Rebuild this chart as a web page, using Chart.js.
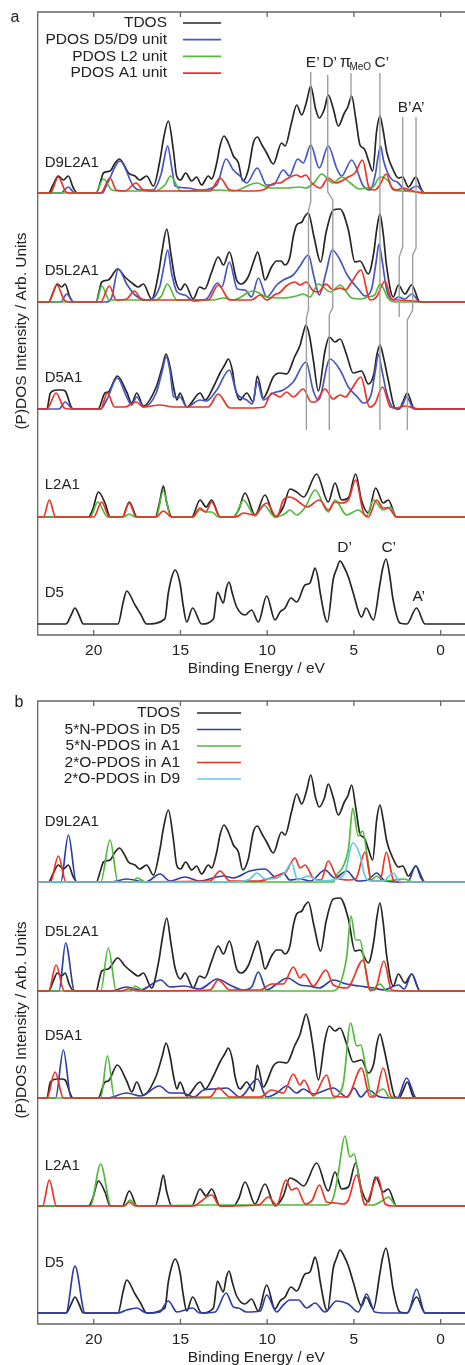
<!DOCTYPE html>
<html>
<head>
<meta charset="utf-8">
<script src="https://cdn.jsdelivr.net/npm/chart.js@4.4.1/dist/chart.umd.min.js"></script>
<style>
  html, body { margin: 0; padding: 0; background: #fff; overflow: hidden; width: 465px; height: 1365px; }
  .panel { position: absolute; left: 0; width: 475px; height: 689px; }
</style>
</head>
<body>
<div class="panel" style="top:0"><canvas id="chartA" width="475" height="689"></canvas></div>
<div class="panel" style="top:689px"><canvas id="chartB" width="475" height="689"></canvas></div>
<script>
// energy axis (eV), reversed, and its tick labels
const energyMin = -1.98;
const energyMax = 23.23;
const tickValues = [0, 5, 10, 15, 20];

// stacked spectra, bottom to top, with their vertical offsets (arb. units)
const spectrumNames = ['D5', 'L2A1', 'D5A1', 'D5L2A1', 'D9L2A1'];
const spectrumOffsets = [0, 107, 215, 322, 431];

// TDOS of each system, [binding energy, intensity] (same in both panels)
const tdosD9L2A1 = [[23.3,0],[22.6,0],[22.35,8],[22.04,17],[21.75,13],[21.46,17],[21.2,6],[20.95,0],[19.85,0],[19.6,12],[19.44,20],[19.06,22],[18.77,30],[18.52,34],[18.25,28],[18.0,20],[17.62,17],[17.35,13],[16.95,17],[16.56,7],[16.18,33],[15.99,53],[15.7,72],[15.41,43],[15.22,17],[15.0,13],[14.7,20],[14.35,12],[14.07,16],[13.78,8],[13.39,17],[13.2,14],[12.91,30],[12.72,47],[12.49,57],[12.24,50],[11.95,37],[11.66,30],[11.41,12],[11.09,23],[10.8,50],[10.57,56],[10.3,48],[10.03,40],[9.65,29],[9.17,50],[8.97,47],[8.6,70],[8.3,88],[8.01,78],[7.72,92],[7.49,107],[7.22,85],[7.0,75],[6.7,84],[6.48,98],[6.2,85],[5.9,67],[5.55,80],[5.35,86],[5.13,97],[4.9,75],[4.65,48],[4.4,44],[4.15,32],[3.92,22],[3.69,62],[3.5,77],[3.31,62],[3.11,41],[2.73,23],[2.44,15],[2.19,16],[1.86,6],[1.42,16],[1.15,5],[0.95,0],[-2,0]];
const tdosD5L2A1 = [[23.3,0],[22.6,0],[22.35,9],[22.1,18],[21.85,15],[21.65,18],[21.4,6],[21.15,0],[19.85,0],[19.7,10],[19.54,20],[19.16,22],[18.62,33],[18.2,25],[17.72,18],[17.43,15],[17.14,18],[16.66,3],[16.25,30],[16.05,52],[15.79,73],[15.55,48],[15.31,23],[15.0,12],[14.74,18],[14.26,3],[13.9,15],[13.6,13],[13.2,30],[12.82,45],[12.52,37],[12.18,50],[11.76,22],[11.5,18],[11.1,25],[10.75,42],[10.55,50],[10.35,38],[10.13,22],[9.75,35],[9.45,41],[9.2,41],[8.98,37],[8.69,45],[8.5,65],[8.3,77],[8.0,80],[7.85,85],[7.63,89],[7.3,65],[6.92,40],[6.6,70],[6.19,92],[5.8,93],[5.32,72],[4.94,40],[4.65,41],[4.17,28],[3.85,50],[3.69,72],[3.5,88],[3.31,68],[3.11,35],[2.73,5],[2.44,17],[2.06,8],[1.67,17],[1.19,0],[-2,0]];
const tdosD5A1 = [[23.3,0],[22.7,0],[22.5,16],[22.1,19],[21.85,19],[21.65,18],[21.3,2],[21.2,0],[19.75,0],[19.35,16],[19.16,17],[18.64,33],[18.1,17],[17.81,6],[17.52,16],[17.14,3],[16.4,22],[16.05,42],[15.83,55],[15.6,42],[15.4,22],[15.2,9],[15.03,16],[14.64,2],[13.87,16],[13.58,9],[13.1,22],[12.72,36],[12.45,44],[12.24,50],[12.0,38],[11.86,22],[11.57,9],[11.18,16],[10.8,7],[10.57,33],[10.22,11],[10.03,16],[9.65,32],[9.26,36],[8.88,35],[8.4,53],[8.1,64],[7.95,74],[7.76,84],[7.55,72],[7.34,49],[7.05,18],[6.67,58],[6.42,72],[6.09,67],[5.8,70],[5.42,54],[5.04,36],[4.56,38],[4.17,25],[3.85,35],[3.68,54],[3.5,64],[3.3,52],[3.02,29],[2.63,1],[2.4,0],[2.2,6],[1.92,16],[1.6,2],[1.4,0],[-2,0]];
const tdosL2A1 = [[23.3,0],[20.3,0],[20.05,8],[19.73,25],[19.35,14],[19.05,0],[18.35,0],[17.95,15],[17.5,0],[16.45,0],[16.2,15],[15.99,31],[15.8,15],[15.5,0],[14.35,0],[13.87,17],[13.52,10],[13.2,17],[12.72,0],[11.95,0],[11.65,7],[11.28,24],[10.7,2],[10.13,22],[9.55,0],[9.07,10],[8.69,28],[8.3,25],[7.9,20],[7.15,43],[6.48,15],[6.09,34],[5.71,17],[5.32,19],[4.9,43],[4.57,17],[4.17,4],[3.75,29],[3.31,14],[3.02,17],[2.54,0],[-2,0]];
const tdosD5 = [[23.3,0],[21.6,0],[21.3,9],[21.08,16],[20.85,9],[20.6,0],[18.6,0],[18.3,22],[18.1,33],[17.62,19],[17.3,10],[16.95,0],[15.9,5],[15.7,31],[15.5,47],[15.31,54],[15.03,41],[14.83,17],[14.64,2],[14.3,16],[13.78,0],[13.1,5],[12.87,32],[12.53,21],[12.35,36],[12.2,42],[12.0,30],[11.76,17],[11.28,9],[10.9,14],[10.51,2],[10.03,28],[9.55,4],[9.26,12],[8.97,16],[8.63,26],[8.3,22],[7.82,39],[7.53,41],[7.4,48],[7.24,56],[7.05,44],[6.96,33],[6.53,2],[6.19,45],[6.0,55],[5.8,63],[5.6,58],[5.32,47],[5.04,31],[4.56,7],[4.3,16],[3.88,4],[3.5,40],[3.35,55],[3.15,65],[2.95,50],[2.75,25],[2.35,1],[1.95,0],[1.39,16],[0.9,0],[-2,0]];

// panel a: PDOS of the D5/D9, L2 and A1 units
const unitDD_D9L2A1 = [[23.3,0],[21.9,0],[21.46,6],[21.1,0],[19.5,0],[19.25,8],[18.48,32],[17.72,7],[17.33,3],[16.6,3],[16.1,20],[15.95,33],[15.74,47],[15.5,25],[15.3,7],[14.6,5],[13.9,3],[12.91,8],[12.37,34],[11.95,23],[11.57,17],[11.18,10],[10.57,25],[10.03,8],[9.65,8],[9.07,23],[8.72,17],[8.24,34],[7.92,30],[7.49,48],[7.0,25],[6.48,47],[6.0,25],[5.71,17],[5.13,33],[4.46,7],[4.07,3],[3.75,20],[3.62,35],[3.46,47],[3.3,33],[3.05,20],[2.78,13],[2.5,11],[1.96,2],[1.39,7],[0.9,0],[-2,0]];
const unitL2_D9L2A1 = [[23.3,0],[19.9,0],[19.44,14],[18.95,3],[18.5,2],[16.5,2],[15.9,8],[15.56,17],[15.0,2],[12.72,3],[11.95,2],[10.6,10],[9.84,5],[8.88,5],[8.11,6],[7.8,5],[7.3,10],[6.86,19],[6.4,12],[6.2,10],[5.71,16],[5.2,10],[4.7,4],[4.27,5],[3.9,6],[3.5,16],[3.02,12],[2.73,3],[2.2,2],[1.4,1],[0.8,0],[-2,0]];
const unitA1_D9L2A1 = [[23.3,0],[22.5,0],[22.04,16],[21.6,1],[21.3,0],[19.6,0],[19.06,15],[18.7,3],[18.2,2],[17.56,10],[17.15,3],[16.5,2],[13.3,2],[12.72,15],[12.15,3],[11.0,2],[10.25,3],[9.55,10],[9.26,10],[8.97,13],[8.3,18],[8.05,16],[7.78,18],[7.42,10],[6.94,5],[6.48,15],[6.04,10],[5.71,12],[5.33,16],[4.94,20],[4.5,33],[4.12,5],[3.8,3],[3.5,8],[3.15,19],[2.83,6],[2.55,3],[2.17,5],[1.6,2],[1.02,0],[-2,0]];
const unitDD_D5L2A1 = [[23.3,0],[21.9,0],[21.56,8],[21.17,0],[19.3,0],[19.0,3],[18.58,33],[18.1,18],[17.62,7],[16.95,2],[16.2,15],[15.95,36],[15.74,52],[15.5,28],[15.2,10],[14.74,7],[14.26,1],[13.5,3],[12.87,19],[12.62,15],[12.18,40],[11.72,13],[11.28,12],[10.9,5],[10.51,24],[10.03,5],[9.45,17],[9.07,22],[8.5,27],[8.11,36],[7.63,47],[7.3,25],[7.0,7],[6.6,30],[6.25,52],[5.8,42],[5.42,28],[4.75,13],[4.36,6],[4.0,12],[3.72,40],[3.56,58],[3.38,42],[3.11,12],[2.73,2],[2.44,5],[2.06,3],[1.67,8],[1.19,0],[-2,0]];
const unitL2_D5L2A1 = [[23.3,0],[19.85,0],[19.54,16],[19.1,2],[16.5,2],[16.1,6],[15.76,18],[15.2,2],[13.1,2],[12.5,4],[11.95,2],[10.8,11],[10.03,5],[9.07,4],[8.3,6],[7.92,8],[7.53,5],[7.05,18],[6.34,10],[5.8,17],[5.13,4],[4.6,3],[4.2,5],[3.8,7],[3.5,18],[3.0,3],[2.7,0],[-2,0]];
const unitA1_D5L2A1 = [[23.3,0],[22.6,0],[22.13,17],[21.7,2],[21.4,0],[19.6,0],[19.1,16],[18.7,2],[18.1,3],[17.66,11],[17.2,2],[16.5,2],[13.4,2],[12.82,17],[12.15,2],[10.9,2],[10.41,7],[10.03,2],[9.5,8],[9.3,9],[8.9,16],[8.4,20],[8.1,17],[7.76,20],[7.34,11],[7.05,10],[6.61,18],[6.2,12],[5.8,14],[5.5,12],[5.13,20],[4.59,32],[4.07,2],[3.7,5],[3.21,21],[2.83,3],[2.5,2],[1.5,1],[1.0,0],[-2,0]];
const unitDD_D5A1 = [[23.3,0],[22.0,0],[21.65,7],[21.2,0],[19.6,0],[19.25,9],[18.64,31],[18.1,12],[17.81,4],[17.52,12],[17.14,2],[16.4,16],[16.05,38],[15.83,52],[15.6,38],[15.4,12],[15.03,12],[14.64,2],[13.87,9],[13.5,8],[12.91,19],[12.18,39],[11.76,16],[11.18,9],[10.86,5],[10.57,27],[10.22,9],[9.65,16],[9.07,19],[8.5,27],[7.76,47],[7.34,18],[7.05,9],[6.38,50],[5.8,39],[5.32,22],[4.75,11],[4.46,6],[4.0,15],[3.75,40],[3.59,55],[3.4,40],[3.11,16],[2.73,1],[2.4,0],[2.2,4],[1.96,12],[1.6,1],[1.4,0],[-2,0]];
const unitA1_D5A1 = [[23.3,0],[22.7,0],[22.17,16],[21.7,1],[21.4,0],[19.6,0],[19.21,16],[18.8,2],[18.2,2],[17.56,7],[17.14,2],[16.18,4],[15.4,2],[13.4,2],[12.82,15],[12.15,1],[11.0,1],[10.2,2],[9.74,16],[9.26,12],[8.88,17],[8.5,12],[7.92,20],[7.46,7],[7.24,7],[6.67,20],[6.2,10],[5.8,14],[5.5,12],[5.13,20],[4.6,32],[4.1,2],[3.8,5],[3.35,22],[2.9,2],[2.6,1],[2.0,3],[1.6,1],[1.0,0],[-2,0]];
const unitL2_L2A1 = [[23.3,0],[20.2,0],[19.77,15],[19.2,0],[18.3,0],[17.95,3],[17.6,0],[16.4,0],[15.99,26],[15.55,0],[14.3,0],[13.87,7],[13.5,5],[13.2,5],[12.8,0],[11.9,0],[11.37,17],[10.7,1],[10.2,12],[9.55,0],[9.0,3],[8.69,7],[8.3,2],[7.8,10],[7.24,27],[6.48,5],[6.09,17],[5.42,2],[4.75,7],[4.27,1],[3.88,17],[3.31,7],[2.92,10],[2.54,0],[-2,0]];
const unitA1_L2A1 = [[23.3,0],[22.9,0],[22.56,17],[22.2,0],[20.0,0],[19.54,15],[19.1,0],[18.35,0],[17.95,14],[17.55,0],[16.4,0],[15.99,6],[15.5,0],[14.3,0],[13.87,9],[13.55,5],[13.2,15],[12.72,0],[11.8,0],[11.37,4],[10.75,2],[10.03,14],[9.45,0],[9.07,17],[8.72,20],[8.4,18],[8.1,14],[7.7,10],[6.99,17],[6.48,7],[6.09,15],[5.71,14],[5.32,17],[4.9,37],[4.46,5],[4.17,0],[3.69,17],[3.31,9],[3.02,9],[2.54,0],[-2,0]];

// panel b: weighted N- and O-PDOS
const nD5_D9L2A1 = [[23.3,0],[21.9,0],[21.46,47],[21.0,0],[19.0,0],[18.1,3],[17.0,0],[16.18,8],[15.6,1],[14.74,5],[13.9,1],[12.91,5],[12.53,6],[11.95,4],[11.0,11],[10.13,13],[9.45,4],[9.07,9],[8.7,2],[8.11,3],[7.5,1],[6.67,12],[6.1,4],[5.42,11],[4.8,1],[4.2,2],[3.69,9],[3.2,1],[2.3,0],[1.9,0],[1.44,16],[0.9,0],[-2,0]];
const nA1_D9L2A1 = [[23.3,0],[19.6,0],[19.06,42],[18.6,0],[17.8,0],[17.5,4],[17.0,0],[6.2,0],[5.99,7],[5.61,16],[5.3,35],[5.07,74],[4.75,46],[4.5,51],[4.2,22],[4.0,2],[3.69,6],[3.3,1],[2.1,3],[1.6,0],[-2,0]];
const oA1_D9L2A1 = [[23.3,0],[22.5,0],[22.04,26],[21.6,0],[13.3,1],[12.72,11],[12.15,1],[10.5,1],[9.8,4],[9.5,6],[9.2,8],[8.97,9],[8.4,24],[8.1,14],[7.82,17],[7.3,3],[6.9,2],[6.48,21],[5.95,4],[5.3,2],[4.9,3],[4.36,30],[4.0,1],[3.5,1],[3.13,30],[2.7,1],[2.2,0],[-2,0]];
const oD9_D9L2A1 = [[23.3,0],[12.0,0],[11.0,3],[10.6,9],[10.1,3],[9.5,4],[9.0,9],[8.59,19],[8.25,2],[7.66,6],[7.0,1],[6.0,3],[5.5,10],[5.07,39],[4.65,27],[4.4,8],[4.1,1],[3.3,1],[2.73,9],[2.4,1],[2.0,0],[-2,0]];
const nD5_D5L2A1 = [[23.3,0],[22.0,0],[21.62,48],[21.1,0],[19.0,0],[18.1,4],[17.3,1],[16.14,11],[15.6,4],[14.8,5],[13.9,2],[12.87,12],[12.15,6],[11.4,1],[10.9,4],[10.51,19],[10.03,1],[9.45,7],[8.84,13],[8.1,6],[7.6,5],[7.0,3],[6.19,11],[5.42,7],[4.7,5],[3.85,3],[3.3,1],[2.44,6],[2.1,2],[1.67,17],[1.19,0],[-2,0]];
const nA1_D5L2A1 = [[23.3,0],[19.6,0],[19.16,43],[18.7,0],[17.8,0],[17.62,5],[17.1,0],[6.2,0],[5.8,7],[5.42,34],[5.17,75],[4.9,51],[4.65,51],[4.36,24],[4.07,0],[3.5,7],[3.1,0],[-2,0]];
const oA1_D5L2A1 = [[23.3,0],[22.6,0],[22.17,26],[21.7,0],[18.4,0],[18.0,2],[17.5,0],[13.3,1],[12.82,11],[12.15,1],[10.4,1],[9.74,7],[9.07,7],[8.49,24],[8.11,13],[7.88,17],[7.34,5],[6.61,21],[6.19,6],[5.4,3],[4.46,31],[4.07,1],[3.8,1],[3.27,30],[2.83,1],[2.0,0],[-2,0]];
const nD5_D5A1 = [[23.3,0],[22.2,0],[21.75,48],[21.3,0],[19.2,0],[18.1,5],[17.3,2],[16.22,12],[15.6,5],[14.9,5],[14.2,1],[13.68,8],[13.1,9],[12.34,10],[11.57,1],[10.57,19],[10.03,1],[9.45,5],[8.88,12],[8.3,5],[7.92,9],[7.34,4],[6.19,10],[5.4,1],[5.0,10],[4.6,1],[4.17,8],[3.5,1],[2.5,0],[1.96,20],[1.4,0],[-2,0]];
const nA1_D5A1 = [[23.3,0],[19.6,0],[19.21,42],[18.8,0],[6.2,0],[5.9,3],[5.61,15],[5.19,75],[4.84,52],[4.61,53],[4.27,25],[3.98,2],[3.31,9],[2.9,0],[-2,0]];
const oA1_D5A1 = [[23.3,0],[22.7,0],[22.23,26],[21.75,0],[13.3,1],[12.82,10],[12.15,1],[10.4,1],[9.74,8],[9.07,5],[8.49,24],[8.11,13],[7.88,18],[7.34,2],[6.57,23],[6.19,2],[5.4,1],[4.56,30],[4.07,1],[3.8,1],[3.31,30],[2.83,1],[2.0,0],[-2,0]];
const nA1_L2A1 = [[23.3,0],[20.2,0],[19.6,42],[19.0,0],[18.2,0],[17.91,6],[17.5,0],[13.5,1],[6.6,1],[6.19,8],[5.9,33],[5.52,70],[5.23,49],[5.0,52],[4.65,23],[4.36,1],[3.9,1],[3.3,6],[3.02,9],[2.54,0],[-2,0]];
const oA1_L2A1 = [[23.3,0],[22.95,0],[22.56,26],[22.15,0],[18.3,0],[17.95,4],[17.6,0],[14.2,0],[13.87,4],[13.2,11],[12.72,0],[10.5,1],[9.93,9],[9.45,1],[8.92,26],[8.6,16],[8.3,18],[7.8,2],[7.4,6],[6.99,21],[6.57,4],[6.09,3],[5.61,2],[5.32,6],[4.84,31],[4.36,1],[3.63,29],[3.2,2],[2.8,0],[-2,0]];
const nD5_D5 = [[23.3,0],[21.6,0],[21.08,47],[20.5,0],[18.6,0],[18.1,3],[17.52,5],[16.95,0],[16.2,1],[15.7,12],[15.2,1],[14.3,5],[13.9,0],[13.0,1],[12.37,20],[11.95,6],[11.66,5],[11.18,1],[10.4,2],[10.03,18],[9.45,1],[9.07,8],[8.69,13],[8.2,13],[7.72,5],[7.24,10],[6.67,1],[6.0,12],[5.32,9],[4.75,1],[4.27,19],[3.8,1],[3.1,0],[1.9,0],[1.39,24],[0.9,0],[-2,0]];

// peak markers of panel a: [energy, intensity] corners of each guide line
const guideE = [[7.49,552],[7.49,422],[7.62,414],[7.62,314],[7.74,306],[7.74,194]];
const guideD = [[6.51,549],[6.51,432],[6.22,424],[6.22,317],[6.42,309],[6.42,194]];
const guidePi = [[5.17,551],[5.17,524]];
const guideC = [[3.5,551],[3.5,194]];
const guideB = [[2.19,507],[2.19,377],[2.39,367],[2.39,307]];
const guideA = [[1.42,507],[1.42,376],[1.61,369],[1.61,314],[1.92,304],[1.92,194]];

const BLACK = '#262626', BLUE = '#4656c4', NAVY = '#2f3ea8', GREEN = '#52b93a', RED = '#ec3325', CYAN = '#5fc9e8', GREY = '#9e9e9e';
const FONT = '"Liberation Sans", Arial, sans-serif';

function curve(points, spectrum, color, order) {
  const off = spectrumOffsets[spectrumNames.indexOf(spectrum)];
  return {
    data: points.map(p => ({ x: p[0], y: p[1] + off })),
    borderColor: color, borderWidth: 1.7, pointRadius: 0, fill: false,
    cubicInterpolationMode: 'monotone', order: order
  };
}

function guide(points) {
  return {
    data: points.map(p => ({ x: p[0], y: p[1] })),
    borderColor: GREY, borderWidth: 1.4, pointRadius: 0, fill: false, tension: 0, order: -1
  };
}

const decor = {
  id: 'decor',
  beforeDatasetsDraw(chart) {
    const { ctx, chartArea: a, scales: { x } } = chart;
    ctx.save();
    ctx.strokeStyle = '#666';
    ctx.lineWidth = 1.3;
    ctx.beginPath();
    ctx.moveTo(a.right + 5, a.top); ctx.lineTo(a.left, a.top);
    ctx.lineTo(a.left, a.bottom); ctx.lineTo(a.right + 5, a.bottom);
    tickValues.forEach(v => {
      const px = x.getPixelForValue(v);
      ctx.moveTo(px, a.top); ctx.lineTo(px, a.top + 5);
      ctx.moveTo(px, a.bottom); ctx.lineTo(px, a.bottom - 5);
    });
    ctx.stroke();
    ctx.restore();
  },
  afterDatasetsDraw(chart) {
    const opt = chart.options.plugins.decor;
    const { ctx, chartArea: a, scales: { x, y } } = chart;
    ctx.save();
    ctx.fillStyle = '#222';
    // y title
    ctx.save();
    ctx.translate(22, 331);
    ctx.rotate(-Math.PI / 2);
    ctx.font = '15.5px ' + FONT;
    ctx.textAlign = 'center';
    ctx.textBaseline = 'middle';
    ctx.fillText('(P)DOS Intensity / Arb. Units', 0, 0);
    ctx.restore();
    // panel letter
    ctx.font = '16px ' + FONT;
    ctx.textAlign = 'center';
    ctx.textBaseline = 'middle';
    ctx.fillText(opt.letter, opt.letterX, opt.letterY);
    // legend
    ctx.font = '15.5px ' + FONT;
    opt.legend.forEach((item, i) => {
      const ly = opt.legendTop + i * opt.legendStep;
      ctx.textAlign = 'right';
      ctx.fillStyle = '#222';
      ctx.fillText(item[0], opt.legendTextRight, ly);
      ctx.strokeStyle = item[1];
      ctx.lineWidth = 1.7;
      ctx.beginPath();
      ctx.moveTo(opt.legendLine[0], ly); ctx.lineTo(opt.legendLine[1], ly);
      ctx.stroke();
    });
    // spectrum names
    ctx.font = '15px ' + FONT;
    ctx.textAlign = 'left';
    ctx.fillStyle = '#222';
    spectrumNames.forEach((name, i) => {
      ctx.fillText(name, a.left + 7, y.getPixelForValue(spectrumOffsets[i]) - opt.nameLift[i]);
    });
    // peak labels
    ctx.font = '15.5px ' + FONT;
    ctx.textAlign = 'center';
    (opt.peakLabels || []).forEach(l => {
      const px = x.getPixelForValue(l[1]), py = y.getPixelForValue(l[2]);
      if (l[0] === 'pi') {
        ctx.textAlign = 'left';
        ctx.font = '16px ' + FONT;
        ctx.fillText('\u03c0', px - 11, py);
        ctx.font = '10px ' + FONT;
        ctx.fillText('MeO', px - 1.5, py + 4);
        ctx.font = '15.5px ' + FONT;
        ctx.textAlign = 'center';
      } else {
        ctx.fillText(l[0], px + 2, py);
      }
    });
    ctx.restore();
  }
};

function makeChart(id, datasets, decorOpts) {
  return new Chart(document.getElementById(id), {
    type: 'line',
    data: { datasets: datasets },
    plugins: [decor],
    options: {
      responsive: false,
      animation: false,
      layout: { padding: { left: 37.7, top: 12, right: 0, bottom: 0 } },
      plugins: { legend: { display: false }, tooltip: { enabled: false }, decor: decorOpts },
      scales: {
        x: {
          type: 'linear', reverse: true, min: energyMin, max: energyMax,
          afterBuildTicks: s => { s.ticks = tickValues.map(v => ({ value: v })); },
          afterFit: s => { s.height = 54; },
          grid: { display: false, drawTicks: false },
          border: { display: false },
          ticks: { color: '#222', padding: 6, font: { family: FONT, size: 15.5 } },
          title: { display: true, text: 'Binding Energy / eV', color: '#222', padding: { top: 0, bottom: 11 }, font: { family: FONT, size: 15.5 } }
        },
        y: { display: false, min: -11, max: 612 }
      }
    }
  });
}

// panel a
makeChart('chartA', [
  curve(tdosD9L2A1, 'D9L2A1', BLACK, 4), curve(unitDD_D9L2A1, 'D9L2A1', BLUE, 3),
  curve(unitL2_D9L2A1, 'D9L2A1', GREEN, 2), curve(unitA1_D9L2A1, 'D9L2A1', RED, 1),
  curve(tdosD5L2A1, 'D5L2A1', BLACK, 4), curve(unitDD_D5L2A1, 'D5L2A1', BLUE, 3),
  curve(unitL2_D5L2A1, 'D5L2A1', GREEN, 2), curve(unitA1_D5L2A1, 'D5L2A1', RED, 1),
  curve(tdosD5A1, 'D5A1', BLACK, 4), curve(unitDD_D5A1, 'D5A1', BLUE, 3), curve(unitA1_D5A1, 'D5A1', RED, 1),
  curve(tdosL2A1, 'L2A1', BLACK, 4), curve(unitL2_L2A1, 'L2A1', GREEN, 2), curve(unitA1_L2A1, 'L2A1', RED, 1),
  curve(tdosD5, 'D5', BLACK, 4),
  guide(guideE), guide(guideD), guide(guidePi), guide(guideC), guide(guideB), guide(guideA)
], {
  letter: 'a', letterX: 15, letterY: 18,
  legend: [['TDOS', BLACK], ['PDOS D5/D9 unit', BLUE], ['PDOS L2 unit', GREEN], ['PDOS A1 unit', RED]],
  legendTop: 23, legendStep: 16.7, legendTextRight: 167, legendLine: [183, 221],
  nameLift: [31, 32, 31, 31.5, 30],
  peakLabels: [['E\u2019', 7.49, 561], ['D\u2019', 6.51, 561], ['pi', 5.17, 561], ['C\u2019', 3.5, 561],
               ['B\u2019', 2.19, 516], ['A\u2019', 1.42, 516],
               ['D\u2019', 5.65, 76], ['C\u2019', 3.11, 76], ['A\u2019', 1.38, 27]]
});

// panel b
makeChart('chartB', [
  curve(tdosD9L2A1, 'D9L2A1', BLACK, 4), curve(nD5_D9L2A1, 'D9L2A1', NAVY, 3),
  curve(nA1_D9L2A1, 'D9L2A1', GREEN, 2), curve(oA1_D9L2A1, 'D9L2A1', RED, 1), curve(oD9_D9L2A1, 'D9L2A1', CYAN, 0),
  curve(tdosD5L2A1, 'D5L2A1', BLACK, 4), curve(nD5_D5L2A1, 'D5L2A1', NAVY, 3),
  curve(nA1_D5L2A1, 'D5L2A1', GREEN, 2), curve(oA1_D5L2A1, 'D5L2A1', RED, 1),
  curve(tdosD5A1, 'D5A1', BLACK, 4), curve(nD5_D5A1, 'D5A1', NAVY, 3),
  curve(nA1_D5A1, 'D5A1', GREEN, 2), curve(oA1_D5A1, 'D5A1', RED, 1),
  curve(tdosL2A1, 'L2A1', BLACK, 4), curve(nA1_L2A1, 'L2A1', GREEN, 2), curve(oA1_L2A1, 'L2A1', RED, 1),
  curve(tdosD5, 'D5', BLACK, 4), curve(nD5_D5, 'D5', NAVY, 3)
], {
  letter: 'b', letterX: 19, letterY: 14,
  legend: [['TDOS', BLACK], ['5*N-PDOS in D5', NAVY], ['5*N-PDOS in A1', GREEN], ['2*O-PDOS in A1', RED], ['2*O-PDOS in D9', CYAN]],
  legendTop: 24, legendStep: 16.5, legendTextRight: 180, legendLine: [197, 241],
  nameLift: [50, 40, 62, 59, 60]
});
</script>
</body>
</html>
